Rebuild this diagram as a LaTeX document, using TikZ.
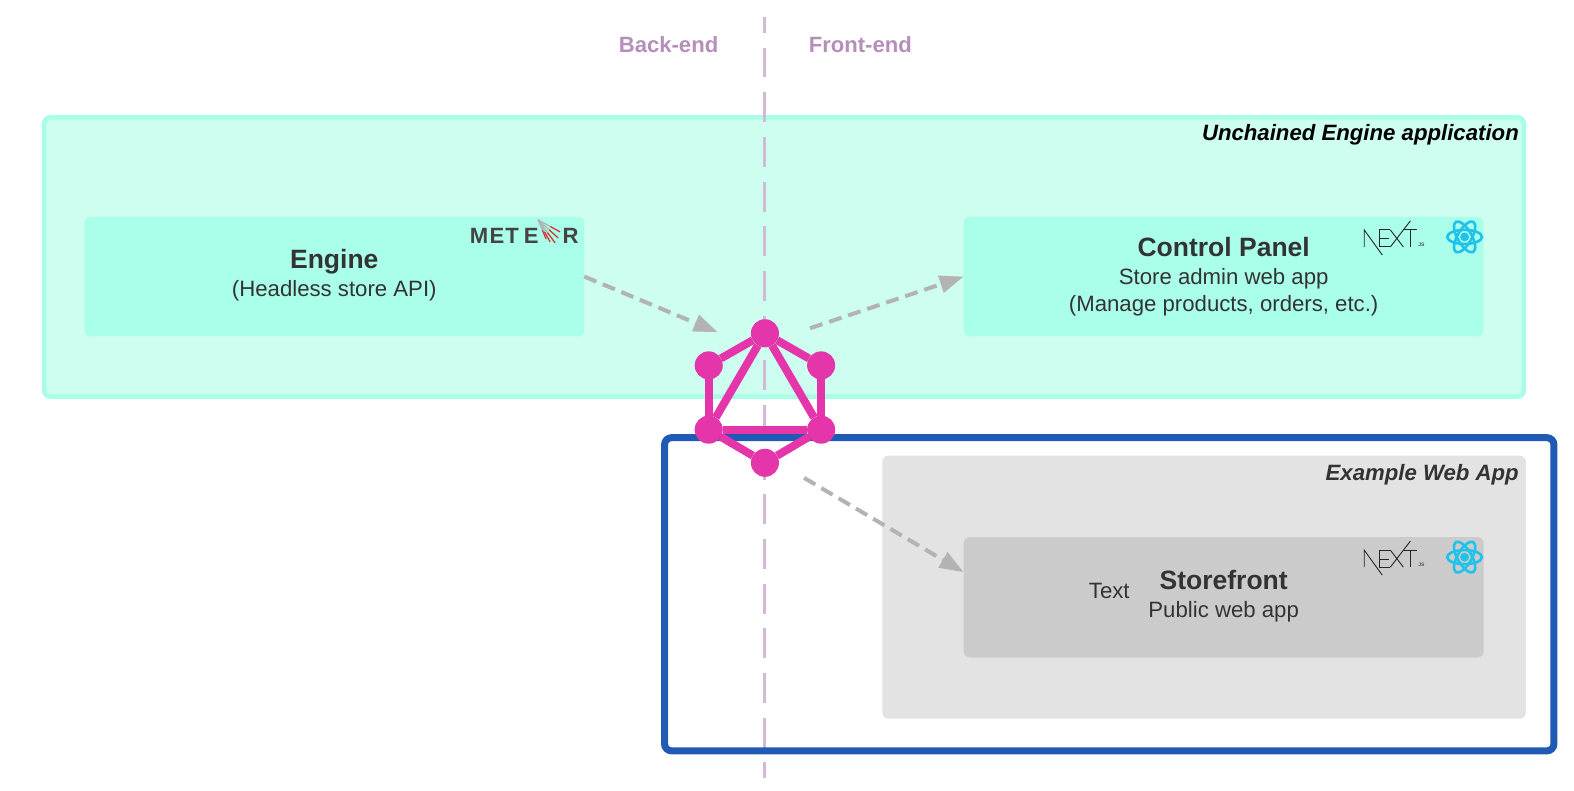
\documentclass[tikz,border=0pt]{standalone}
\usepackage{fontspec}
\setmainfont{Liberation Sans}
\usepackage{tikz}
\usetikzlibrary{arrows.meta}
\definecolor{appfill}{HTML}{CDFEF0}
\definecolor{appline}{HTML}{A8FFE8}
\definecolor{apibox}{HTML}{A9FFE9}
\definecolor{webline}{HTML}{1F5BB5}
\definecolor{webfill}{HTML}{E3E3E3}
\definecolor{storebox}{HTML}{CBCBCB}
\definecolor{splitline}{HTML}{D3B9D6}
\definecolor{splittext}{HTML}{B48FBA}
\definecolor{graphpink}{HTML}{E535AB}
\definecolor{flowgray}{HTML}{B3B3B3}
\definecolor{inkgray}{HTML}{333333}
\definecolor{meteorgray}{HTML}{444444}
\definecolor{reactblue}{HTML}{20C2EA}
\tikzset{
    x=1pt, y=-1pt,
    every node/.style={inner sep=0pt, outer sep=0pt, text=inkgray},
    appbox/.style={fill=apibox, rounded corners=6pt, minimum width=498pt, minimum height=119pt},
    headtext/.style={font=\fontsize{26.4}{30}\selectfont\bfseries},
    subtext/.style={font=\fontsize{22.1}{27}\selectfont, align=center},
    sidetext/.style={font=\fontsize{22}{26}\selectfont\bfseries, text=splittext},
    cornertext/.style={font=\fontsize{22.1}{26}\selectfont\bfseries\itshape, anchor=east},
    meteortext/.style={font=\fontsize{22}{22}\selectfont\bfseries, text=meteorgray, anchor=west},
    flow/.style={draw=flowgray, line width=4pt, dash pattern=on 13pt off 7pt, -{Triangle[length=24pt,width=17pt]}},
    vertex/.style={circle, fill=graphpink, minimum size=28pt},
    edge/.style={draw=graphpink, line width=8pt},
    nextlogo/.pic={
        \draw[black!85, line width=0.9pt] (-29,8) -- (-29,-9) -- (-11,16);
        \draw[black!85, line width=0.9pt] (-14,-9) -- (-14,8) (-14,-9) -- (-3,-9) (-14,0) -- (-4,0) (-14,8) -- (-3,8);
        \draw[black!85, line width=0.9pt] (-3,-9) -- (10,8) (-3,8) -- (17,-18);
        \draw[black!85, line width=0.9pt] (10,-9) -- (24,-9) (17.4,-9) -- (17.4,8);
        \node[font=\fontsize{5}{5}\selectfont\bfseries, text=black!70] at (28,6) {JS};
    },
    reactlogo/.pic={
        \foreach \a in {0,60,120}
            \draw[reactblue, line width=2.6pt, rotate=\a] (0,0) ellipse (17.3pt and 7pt);
        \fill[reactblue] (0,0) circle (4.4pt);
    },
}
\begin{document}
\begin{tikzpicture}
    \useasboundingbox (0,0) rectangle (1568,787);

    % Application frames
    \draw[appline, fill=appfill, line width=4.5pt, rounded corners=6pt] (44,117) rectangle (1518,395);
    \draw[fill=webfill, draw=none, rounded corners=6pt] (879,454) rectangle (1520,716);

    % Back-end / front-end split
    \draw[splitline, line width=3pt, dash pattern=on 29.7pt off 14.8pt, dash phase=14pt] (761.5,17) -- (761.5,775);
    \node[sidetext] (backend) at (666,44.5) {Back-end};
    \node[sidetext] (frontend) at (857,44.5) {Front-end};

    % Web app frame
    \draw[webline, line width=7pt, rounded corners=7pt] (662,436) rectangle (1548,748);

    % Frame titles
    \node[cornertext, text=black] (apptitle) at (1513,134) {Unchained Engine application};
    \node[cornertext] (webtitle) at (1513,473) {Example Web App};

    % Boxes
    \node[appbox] (engine) at (333,275.5) {};
    \node[appbox, minimum width=518pt] (panel) at (1219,275.5) {};
    \node[appbox, minimum width=518pt, minimum height=120pt, fill=storebox] (storefront) at (1219,595) {};

    % Box texts
    \node[headtext] (enginehead) at (333,261) {Engine};
    \node[subtext] (enginesub) at (333,290) {(Headless store API)};
    \node[headtext] (panelhead) at (1219,246) {Control Panel};
    \node[subtext] (panelsub) at (1219,291) {Store admin web app\\(Manage products, orders, etc.)};
    \node[headtext] (storehead) at (1219,577.5) {Storefront};
    \node[subtext] (storesub) at (1219,609) {Public web app};
    \node[subtext] (storeplain) at (1105,589) {Text};

    % Logos
    \node[meteortext] (meteorname) at (468,235) {M\kern1.5pt E\kern1pt T\kern5pt E};
    \node[meteortext] (meteorend) at (560.5,235) {R};
    \foreach \ex/\ey in {544/238,548/241,553/242,556/237,558/231} {
        \draw[flowgray, line width=1.2pt] (536,219) -- ({536+0.55*(\ex-536)},{219+0.55*(\ey-219)});
        \draw[red!65!gray, line width=1.2pt] ({536+0.55*(\ex-536)},{219+0.55*(\ey-219)}) -- (\ex,\ey);
    }
    \pic at (1388,238) {nextlogo};
    \pic at (1459,236) {reactlogo};
    \pic at (1388,557) {nextlogo};
    \pic at (1459,555) {reactlogo};

    % Free arrow ends
    \coordinate (gqlin) at (715,331);
    \coordinate (gqlout) at (807,327);
    \coordinate (gqlweb) at (801,476);
    \coordinate (storein) at (960,570);

    % Arrows
    \draw[flow] (engine.east) -- (gqlin);
    \draw[flow] (gqlout) -- (panel.west);
    \draw[flow] (gqlweb) -- (storein);

    % GraphQL logo
    \node[vertex] (gtop) at (762,332) {};
    \node[vertex] (gright) at (818,364) {};
    \node[vertex] (gleft) at (706,364) {};
    \node[vertex] (gsouthr) at (818,428) {};
    \node[vertex] (gsouthl) at (706,428) {};
    \node[vertex] (gbottom) at (762,461) {};
    \foreach \a/\b in {gtop/gright,gtop/gleft,gright/gsouthr,gleft/gsouthl,gsouthr/gbottom,gsouthl/gbottom,gtop/gsouthr,gtop/gsouthl,gsouthl/gsouthr}
        \draw[edge] (\a) -- (\b);
\end{tikzpicture}
\end{document}
